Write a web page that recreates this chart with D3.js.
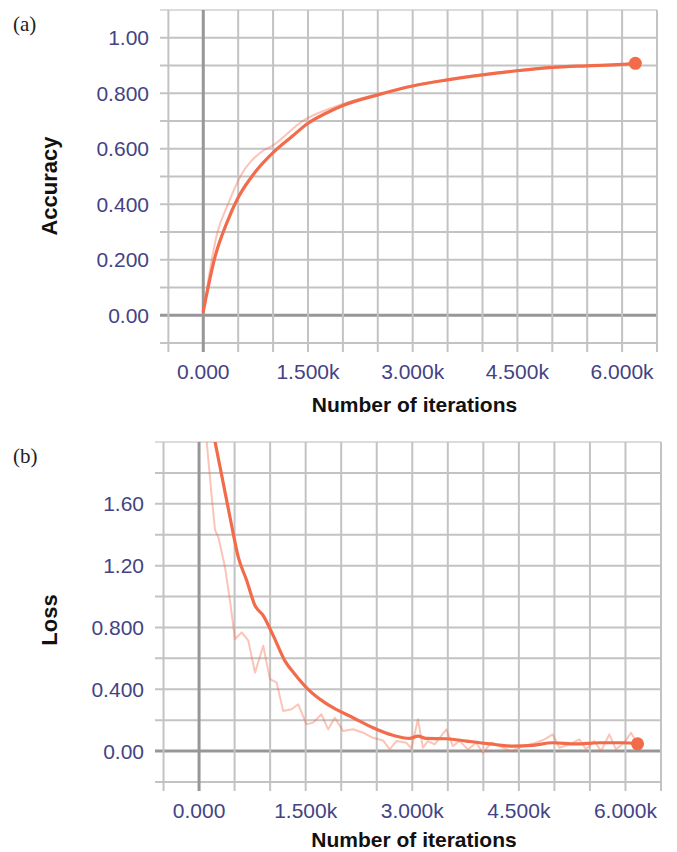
<!DOCTYPE html>
<html>
<head>
<meta charset="utf-8">
<script src="https://cdn.jsdelivr.net/npm/d3@7"></script>
<style>
  body { margin: 0; background: #fff; }
  svg { display: block; }
</style>
</head>
<body>
<div id="chart"></div>
<script>
// accuracy run (a)
const accSteps  = [0, 170, 340, 500, 750, 1000, 1270, 1500, 1750, 2000, 2500, 3000, 3500, 4000, 4500, 5000, 5500, 6000, 6190];
const accSmooth = [0.014, 0.212, 0.335, 0.424, 0.518, 0.586, 0.644, 0.692, 0.727, 0.756, 0.794, 0.826, 0.848, 0.866, 0.881, 0.893, 0.899, 0.904, 0.908];
const accRawSteps = [0, 200, 360, 530, 840, 1010, 1410, 1890, 2500, 3000, 3500, 4000, 4500, 5000, 5500, 6000, 6190];
const accRaw      = [0.014, 0.296, 0.404, 0.5, 0.59, 0.614, 0.698, 0.752, 0.797, 0.828, 0.85, 0.868, 0.883, 0.894, 0.9, 0.905, 0.908];

// loss run (b)
const lossSteps  = [0, 225, 342, 435, 552, 670, 787, 903, 1044, 1208, 1348, 1535, 1770, 1886, 2167, 2448, 2729, 2963, 3080, 3197, 3479, 3760, 3947, 4087, 4415, 4696, 4976, 5305, 5632, 5959, 6170];
const lossSmooth = [2.45, 2.0, 1.73, 1.515, 1.255, 1.104, 0.942, 0.877, 0.747, 0.584, 0.498, 0.4, 0.314, 0.281, 0.216, 0.151, 0.102, 0.082, 0.097, 0.082, 0.08, 0.065, 0.054, 0.047, 0.032, 0.037, 0.054, 0.047, 0.054, 0.054, 0.047];
const lossRawSteps = [0, 108, 178, 225, 271, 365, 435, 506, 600, 693, 787, 903, 997, 1091, 1184, 1302, 1395, 1512, 1605, 1723, 1816, 1910, 2027, 2167, 2308, 2448, 2589, 2683, 2776, 2917, 2987, 3080, 3150, 3220, 3315, 3479, 3572, 3666, 3782, 3900, 3993, 4111, 4274, 4392, 4555, 4743, 4860, 4976, 5070, 5211, 5351, 5445, 5562, 5656, 5772, 5866, 5983, 6077, 6170];
const lossRaw      = [2.55, 2.0, 1.645, 1.43, 1.385, 1.19, 0.974, 0.725, 0.768, 0.714, 0.508, 0.682, 0.466, 0.444, 0.26, 0.271, 0.303, 0.173, 0.184, 0.238, 0.141, 0.216, 0.13, 0.141, 0.119, 0.086, 0.069, 0.011, 0.065, 0.054, 0.017, 0.206, 0.022, 0.065, 0.043, 0.141, 0.032, 0.065, 0.011, 0.054, -0.011, 0.054, 0.022, 0.0, 0.032, 0.054, 0.076, 0.108, 0.022, 0.043, 0.076, 0.011, 0.065, 0.0, 0.108, 0.011, 0.054, 0.119, 0.047];

// tick labels
const xTickValues = [0, 1500, 3000, 4500, 6000];
const xTickLabels = ["0.000", "1.500k", "3.000k", "4.500k", "6.000k"];
const accTickValues = [1.0, 0.8, 0.6, 0.4, 0.2, 0.0];
const accTickLabels = ["1.00", "0.800", "0.600", "0.400", "0.200", "0.00"];
const lossTickValues = [1.6, 1.2, 0.8, 0.4, 0.0];
const lossTickLabels = ["1.60", "1.20", "0.800", "0.400", "0.00"];

const W = 677, H = 852;
const lineColor = "#f26b4a";
const tickColor = "#434384";
const sans = "'Liberation Sans', Arial, Helvetica, sans-serif";

const svg = d3.select("#chart").append("svg")
  .attr("width", W).attr("height", H);

function drawPanel(cfg) {
  const x = d3.scaleLinear().domain([-620, 6500]).range([cfg.left, cfg.right]);
  const y = d3.scaleLinear().domain(cfg.yDomain).range([cfg.bottom, cfg.top]);
  const g = svg.append("g");

  // panel letter
  g.append("text")
    .attr("x", 13).attr("y", cfg.top + 21)
    .attr("font-family", "'Liberation Serif', 'Times New Roman', serif")
    .attr("font-size", 21).attr("fill", "#222")
    .text(cfg.letter);

  // grid
  const xGrid = d3.range(-500, 6501, 500);
  const yGrid = d3.range(0, Math.round((cfg.yDomain[1] - cfg.yDomain[0]) / cfg.yStep) + 1)
    .map(i => +(cfg.yDomain[0] + i * cfg.yStep).toFixed(3));

  g.append("g").selectAll("line").data(yGrid).join("line")
    .attr("x1", cfg.left).attr("x2", cfg.right)
    .attr("y1", d => y(d)).attr("y2", d => y(d))
    .attr("stroke", d => d === 0 ? "#979797" : (d === cfg.yDomain[1] ? "#dcdcdc" : "#c3c3c3"))
    .attr("stroke-width", d => d === 0 ? 3 : 2);

  g.append("g").selectAll("line").data(xGrid).join("line")
    .attr("x1", d => x(d)).attr("x2", d => x(d))
    .attr("y1", cfg.top).attr("y2", cfg.bottom + 9)
    .attr("stroke", d => d === 0 ? "#979797" : "#c3c3c3")
    .attr("stroke-width", d => d === 0 ? 3 : 2);

  // tick labels
  g.append("g").selectAll("text").data(cfg.yTicks).join("text")
    .attr("x", cfg.left - 11).attr("y", d => y(d))
    .attr("text-anchor", "end").attr("dominant-baseline", "central")
    .attr("font-family", sans).attr("font-size", 21).attr("fill", tickColor)
    .text((d, i) => cfg.yLabels[i]);

  g.append("g").selectAll("text").data(xTickValues).join("text")
    .attr("x", d => x(d)).attr("y", cfg.bottom + 28)
    .attr("text-anchor", "middle").attr("dominant-baseline", "central")
    .attr("font-family", sans).attr("font-size", 21).attr("fill", tickColor)
    .text((d, i) => xTickLabels[i]);

  // axis titles
  g.append("text")
    .attr("x", (cfg.left + cfg.right) / 2 + 6).attr("y", cfg.xTitleBase)
    .attr("text-anchor", "middle")
    .attr("font-family", sans).attr("font-size", 21).attr("font-weight", "bold").attr("fill", "#111")
    .text("Number of iterations");

  g.append("text")
    .attr("transform", "translate(57," + cfg.titleY + ") rotate(-90)")
    .attr("text-anchor", "middle")
    .attr("font-family", sans).attr("font-size", 22).attr("font-weight", "bold").attr("fill", "#111")
    .text(cfg.yTitle);

  // lines
  const clipId = "clip-" + cfg.letter.replace(/\W/g, "");
  g.append("clipPath").attr("id", clipId).append("rect")
    .attr("x", cfg.left).attr("y", cfg.top)
    .attr("width", cfg.right - cfg.left).attr("height", cfg.bottom - cfg.top);

  const smoothLine = d3.line().x(d => x(d[0])).y(d => y(d[1])).curve(d3.curveMonotoneX);
  const rawLine = d3.line().x(d => x(d[0])).y(d => y(d[1])).curve(cfg.rawCurve);
  const raw = cfg.rawSteps.map((s, i) => [s, cfg.raw[i]]);
  const smooth = cfg.steps.map((s, i) => [s, cfg.smooth[i]]);

  const lg = g.append("g").attr("clip-path", "url(#" + clipId + ")");
  lg.append("path").datum(raw)
    .attr("d", rawLine).attr("fill", "none")
    .attr("stroke", lineColor).attr("stroke-opacity", 0.4)
    .attr("stroke-width", 2).attr("stroke-linejoin", "round");
  lg.append("path").datum(smooth)
    .attr("d", smoothLine).attr("fill", "none")
    .attr("stroke", lineColor).attr("stroke-width", 3.2)
    .attr("stroke-linejoin", "round").attr("stroke-linecap", "round");

  const last = smooth[smooth.length - 1];
  g.append("circle")
    .attr("cx", x(last[0])).attr("cy", y(last[1])).attr("r", 6.5)
    .attr("fill", lineColor);
}

drawPanel({
  letter: "(a)", left: 160, right: 657, top: 10, bottom: 343,
  yDomain: [-0.1, 1.1], yStep: 0.1,
  yTicks: accTickValues, yLabels: accTickLabels,
  yTitle: "Accuracy", titleY: 186, xTitleBase: 412,
  steps: accSteps, smooth: accSmooth, rawSteps: accRawSteps, raw: accRaw,
  rawCurve: d3.curveMonotoneX
});

drawPanel({
  letter: "(b)", left: 155, right: 661, top: 442, bottom: 782,
  yDomain: [-0.2, 2.0], yStep: 0.2,
  yTicks: lossTickValues, yLabels: lossTickLabels,
  yTitle: "Loss", titleY: 620, xTitleBase: 847,
  steps: lossSteps, smooth: lossSmooth, rawSteps: lossRawSteps, raw: lossRaw,
  rawCurve: d3.curveLinear
});
</script>
</body>
</html>
